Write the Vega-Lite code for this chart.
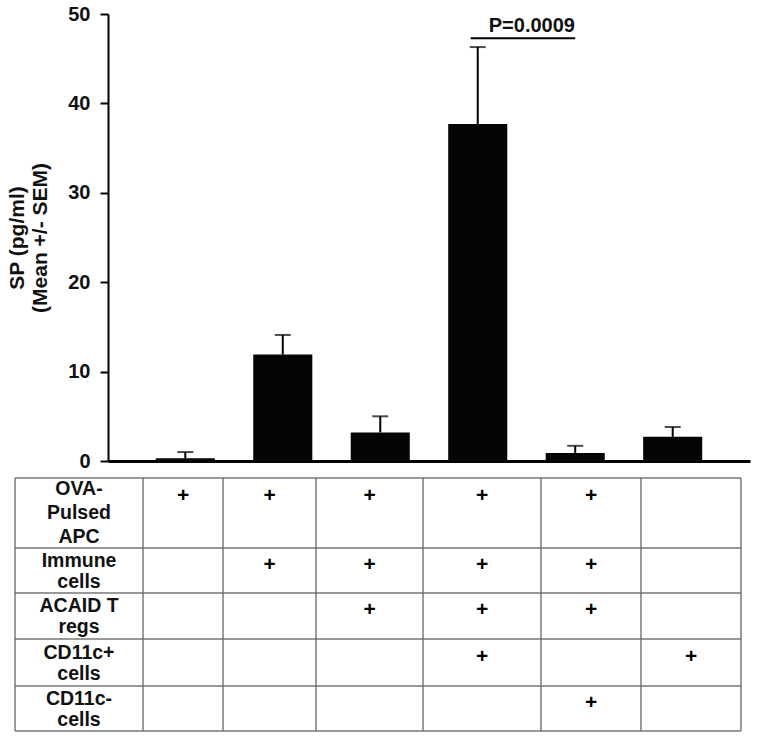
{
  "$schema": "https://vega.github.io/schema/vega-lite/v6.json",
  "width": 642,
  "height": 447,
  "autosize": {"type": "none"},
  "padding": {"left": 108, "top": 14, "right": 10, "bottom": 279},
  "background": "white",
  "config": {"view": {"stroke": null}, "font": "Liberation Sans"},
  "datasets": {
    "bars": [
      {"g": "1", "mean": 0.3, "upper": 1.0},
      {"g": "2", "mean": 11.9, "upper": 14.1},
      {"g": "3", "mean": 3.2, "upper": 5.0},
      {"g": "4", "mean": 37.7, "upper": 46.3},
      {"g": "5", "mean": 0.9, "upper": 1.7},
      {"g": "6", "mean": 2.7, "upper": 3.8}
    ],
    "sig": [{"from": "4", "to": "5", "y": 47.3, "ty": 48.0, "label": "P=0.0009"}],
    "hlines": [{"r": -0.5}, {"r": 0.5}, {"r": 1.5}, {"r": 2.5}, {"r": 3.5}, {"r": 4.5}],
    "vlines": [{"c": -0.5}, {"c": 0.5}, {"c": 1.5}, {"c": 2.5}, {"c": 3.5}, {"c": 4.5}, {"c": 5.5}, {"c": 6.5}],
    "labels": [
      {"r": 0, "label": "OVA-\nPulsed\nAPC"},
      {"r": 1, "label": "Immune\ncells"},
      {"r": 2, "label": "ACAID T\nregs"},
      {"r": 3, "label": "CD11c+\ncells"},
      {"r": 4, "label": "CD11c-\ncells"}
    ],
    "plus": [
      {"r": 0, "c": 1}, {"r": 0, "c": 2}, {"r": 0, "c": 3}, {"r": 0, "c": 4}, {"r": 0, "c": 5},
      {"r": 1, "c": 2}, {"r": 1, "c": 3}, {"r": 1, "c": 4}, {"r": 1, "c": 5},
      {"r": 2, "c": 3}, {"r": 2, "c": 4}, {"r": 2, "c": 5},
      {"r": 3, "c": 4}, {"r": 3, "c": 6},
      {"r": 4, "c": 5}
    ]
  },
  "layer": [
    {
      "layer": [
        {
          "data": {"name": "bars"},
          "mark": {"type": "bar", "color": "#050505"},
          "encoding": {
            "x": {
              "field": "g", "type": "nominal",
              "scale": {"paddingInner": 0.394, "paddingOuter": 0.49},
              "axis": {"labels": false, "ticks": false, "title": null, "domainColor": "#000", "domainWidth": 3}
            },
            "y": {
              "field": "mean", "type": "quantitative",
              "scale": {"domain": [0, 50], "nice": false},
              "axis": {
                "values": [0, 10, 20, 30, 40, 50], "grid": false,
                "domainColor": "#000", "domainWidth": 2,
                "tickColor": "#000", "tickWidth": 2, "tickSize": 8,
                "labelFont": "Liberation Sans", "labelFontSize": 20, "labelFontWeight": "bold",
                "labelColor": "#111", "labelPadding": 10,
                "title": ["SP (pg/ml)", "(Mean +/- SEM)"],
                "titleFont": "Liberation Sans", "titleFontSize": 21, "titleFontWeight": "bold",
                "titleColor": "#111", "titlePadding": 17, "titleLineHeight": 23
              }
            }
          }
        },
        {
          "data": {"name": "bars"},
          "mark": {"type": "rule", "color": "#000", "strokeWidth": 2},
          "encoding": {
            "x": {"field": "g", "type": "nominal"},
            "y": {"field": "mean", "type": "quantitative"},
            "y2": {"field": "upper"}
          }
        },
        {
          "data": {"name": "bars"},
          "mark": {"type": "tick", "color": "#000", "size": 16, "thickness": 2},
          "encoding": {
            "x": {"field": "g", "type": "nominal"},
            "y": {"field": "upper", "type": "quantitative"}
          }
        },
        {
          "data": {"name": "sig"},
          "mark": {"type": "rule", "color": "#000", "strokeWidth": 2},
          "encoding": {
            "x": {"field": "from", "type": "nominal", "bandPosition": 0.38},
            "x2": {"field": "to"},
            "y": {"field": "y", "type": "quantitative"}
          }
        },
        {
          "data": {"name": "sig"},
          "mark": {"type": "text", "font": "Liberation Sans", "fontSize": 20, "fontWeight": "bold", "align": "left", "baseline": "alphabetic", "dx": 11, "color": "#111"},
          "encoding": {
            "x": {"field": "from", "type": "nominal"},
            "y": {"field": "ty", "type": "quantitative"},
            "text": {"field": "label"}
          }
        }
      ]
    },
    {
      "layer": [
        {
          "data": {"name": "hlines"},
          "mark": {"type": "rule", "color": "#999", "strokeWidth": 1.8},
          "encoding": {
            "y": {
              "field": "r", "type": "quantitative",
              "scale": {"domain": [-0.5, 0.5, 1.5, 2.5, 3.5, 4.5], "range": [464, 534, 579, 625, 672, 717], "nice": false, "zero": false},
              "axis": null
            },
            "x": {
              "datum": -0.5, "type": "quantitative",
              "scale": {"domain": [-0.5, 0.5, 1.5, 2.5, 3.5, 4.5, 5.5, 6.5], "range": [-93, 35, 115, 208, 315, 433, 533, 633], "nice": false, "zero": false},
              "axis": null
            },
            "x2": {"datum": 6.5}
          }
        },
        {
          "data": {"name": "vlines"},
          "mark": {"type": "rule", "color": "#666", "strokeWidth": 1.3},
          "encoding": {
            "x": {"field": "c", "type": "quantitative", "axis": null},
            "y": {"datum": -0.5, "type": "quantitative", "axis": null},
            "y2": {"datum": 4.5}
          }
        },
        {
          "data": {"name": "labels"},
          "transform": [{"filter": "datum.r == 0"}],
          "mark": {"type": "text", "font": "Liberation Sans", "fontSize": 19.5, "fontWeight": "bold", "align": "center", "baseline": "middle", "lineBreak": "\n", "lineHeight": 24, "dy": -24, "color": "#111"},
          "encoding": {
            "x": {"datum": 0, "type": "quantitative", "axis": null},
            "y": {"field": "r", "type": "quantitative", "axis": null},
            "text": {"field": "label"}
          }
        },
        {
          "data": {"name": "labels"},
          "transform": [{"filter": "datum.r > 0"}],
          "mark": {"type": "text", "font": "Liberation Sans", "fontSize": 19.5, "fontWeight": "bold", "align": "center", "baseline": "middle", "lineBreak": "\n", "lineHeight": 21, "dy": -10, "color": "#111"},
          "encoding": {
            "x": {"datum": 0, "type": "quantitative", "axis": null},
            "y": {"field": "r", "type": "quantitative", "axis": null},
            "text": {"field": "label"}
          }
        },
        {
          "data": {"name": "plus"},
          "transform": [{"filter": "datum.r == 0"}],
          "mark": {"type": "text", "text": "+", "font": "Liberation Sans", "fontSize": 21, "fontWeight": "bold", "align": "center", "baseline": "middle", "dy": -17, "color": "#000"},
          "encoding": {
            "x": {"field": "c", "type": "quantitative", "axis": null},
            "y": {"field": "r", "type": "quantitative", "axis": null}
          }
        },
        {
          "data": {"name": "plus"},
          "transform": [{"filter": "datum.r > 0"}],
          "mark": {"type": "text", "text": "+", "font": "Liberation Sans", "fontSize": 21, "fontWeight": "bold", "align": "center", "baseline": "middle", "dy": -6, "color": "#000"},
          "encoding": {
            "x": {"field": "c", "type": "quantitative", "axis": null},
            "y": {"field": "r", "type": "quantitative", "axis": null}
          }
        }
      ]
    }
  ],
  "resolve": {"scale": {"x": "independent", "y": "independent"}}
}
